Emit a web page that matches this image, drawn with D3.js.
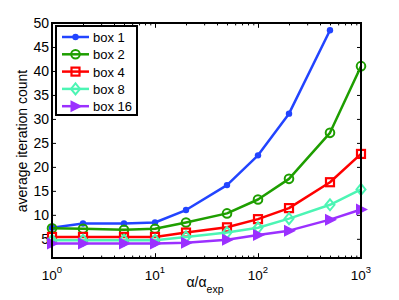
<!DOCTYPE html>
<html>
<head>
<meta charset="utf-8">
<script src="https://cdn.jsdelivr.net/npm/d3@7.9.0/dist/d3.min.js"></script>
<style>
  body { margin: 0; background: #fff; }
  svg { font-family: "Liberation Sans", Arial, sans-serif; }
</style>
</head>
<body>
<svg id="chart" width="399" height="300"></svg>
<script>
// data
const xs      = [1, 2, 5, 10, 20, 50, 100, 200, 500, 1000];
const box1    = [7.3, 8.2, 8.2, 8.4, 11, 16.2, 22.4, 31.1, 48.5, null];
const box2    = [7.2, 7.1, 6.9, 7.1, 8.4, 10.3, 13.2, 17.5, 27.1, 41];
const box4    = [5.4, 5.4, 5.4, 5.4, 6.3, 7.4, 9.1, 11.4, 16.8, 22.7];
const box8    = [4.7, 4.7, 4.7, 4.7, 5.4, 6.3, 7.3, 9.2, 12.1, 15.3];
const box16   = [4.0, 4.0, 4.0, 4.0, 4.2, 4.8, 5.8, 6.7, 9.0, 11.1];
const names   = ['box 1', 'box 2', 'box 4', 'box 8', 'box 16'];
const colors  = ['#2244ff', '#1e9e00', '#ff0000', '#4cf5b4', '#9b30ff'];
const markers = ['dot', 'circle', 'square', 'diamond', 'triangle'];
const yTicks  = [5, 10, 15, 20, 25, 30, 35, 40, 45, 50];
const xTicks  = [1, 10, 100, 1000];

const series = [box1, box2, box4, box8, box16];

const svg = d3.select('#chart');
const m = { left: 52, right: 361, top: 23, bottom: 258 };

const x = d3.scaleLog().domain([1, 1000]).range([m.left, m.right]);
const y = d3.scaleLinear().domain([1, 50]).range([m.bottom, m.top]);

// marker drawing
function drawMarker(g, type, cx, cy, color) {
  if (type === 'dot') {
    g.append('circle').attr('cx', cx).attr('cy', cy).attr('r', 3.2).attr('fill', color);
  } else if (type === 'circle') {
    g.append('circle').attr('cx', cx).attr('cy', cy).attr('r', 4.3)
      .attr('fill', 'none').attr('stroke', color).attr('stroke-width', 2);
  } else if (type === 'square') {
    g.append('rect').attr('x', cx - 4).attr('y', cy - 4).attr('width', 8).attr('height', 8)
      .attr('fill', 'none').attr('stroke', color).attr('stroke-width', 2.2);
  } else if (type === 'diamond') {
    g.append('path')
      .attr('d', `M${cx},${cy - 5.5}L${cx + 4.5},${cy}L${cx},${cy + 5.5}L${cx - 4.5},${cy}Z`)
      .attr('fill', 'none').attr('stroke', color).attr('stroke-width', 2);
  } else {
    g.append('path')
      .attr('d', `M${cx - 5},${cy - 6}L${cx + 7},${cy}L${cx - 5},${cy + 6}Z`)
      .attr('fill', color);
  }
}

// axes (MATLAB style box, ticks inward)
const tickLen = 4;
const axes = svg.append('g');
axes.append('g')
  .attr('transform', `translate(0,${m.bottom})`)
  .call(d3.axisBottom(x).tickValues(x.ticks()).tickSizeInner(-tickLen * 0.6).tickSizeOuter(0).tickFormat(''));
axes.append('g')
  .attr('transform', `translate(0,${m.top})`)
  .call(d3.axisTop(x).tickValues(x.ticks()).tickSizeInner(-tickLen * 0.6).tickSizeOuter(0).tickFormat(''));
axes.append('g')
  .attr('transform', `translate(0,${m.bottom})`)
  .call(d3.axisBottom(x).tickValues(xTicks).tickSizeInner(-tickLen * 1.2).tickSizeOuter(0).tickFormat(''));
axes.append('g')
  .attr('transform', `translate(0,${m.top})`)
  .call(d3.axisTop(x).tickValues(xTicks).tickSizeInner(-tickLen * 1.2).tickSizeOuter(0).tickFormat(''));
axes.append('g')
  .attr('transform', `translate(${m.left},0)`)
  .call(d3.axisLeft(y).tickValues(yTicks).tickSizeInner(-tickLen).tickSizeOuter(0).tickPadding(3))
  .call(g => g.selectAll('text').attr('font-size', 14).attr('fill', '#000'));
axes.append('g')
  .attr('transform', `translate(${m.right},0)`)
  .call(d3.axisRight(y).tickValues(yTicks).tickSizeInner(-tickLen).tickSizeOuter(0).tickFormat(''));
axes.selectAll('.domain').remove();
axes.selectAll('line').attr('stroke', '#000').attr('stroke-width', 1);

// x tick labels with superscript exponents
xTicks.forEach(v => {
  const t = svg.append('text')
    .attr('x', x(v)).attr('y', m.bottom + 22)
    .attr('text-anchor', 'middle').attr('font-size', 13.5);
  t.append('tspan').text('10');
  t.append('tspan').attr('dy', -7).attr('font-size', 9.5).text(Math.round(Math.log10(v)));
});

// series lines and markers
const line = d3.line()
  .defined(d => d[1] != null)
  .x(d => x(d[0]))
  .y(d => y(d[1]));

const plot = svg.append('g');
series.forEach((vals, i) => {
  const pts = xs.map((v, j) => [v, vals[j]]);
  plot.append('path')
    .datum(pts)
    .attr('d', line)
    .attr('fill', 'none')
    .attr('stroke', colors[i])
    .attr('stroke-width', 2.5)
    .attr('stroke-linejoin', 'round');
  const mg = plot.append('g');
  pts.filter(d => d[1] != null).forEach(d => drawMarker(mg, markers[i], x(d[0]), y(d[1]), colors[i]));
});

// frame
svg.append('rect')
  .attr('x', m.left).attr('y', m.top)
  .attr('width', m.right - m.left).attr('height', m.bottom - m.top)
  .attr('fill', 'none').attr('stroke', '#000').attr('stroke-width', 2);

// legend
const lg = svg.append('g');
lg.append('rect')
  .attr('x', 56).attr('y', 26).attr('width', 81).attr('height', 89)
  .attr('fill', '#fff').attr('stroke', '#000').attr('stroke-width', 2);
names.forEach((name, i) => {
  const ly = 37 + i * 17.3;
  lg.append('line')
    .attr('x1', 62).attr('x2', 89).attr('y1', ly).attr('y2', ly)
    .attr('stroke', colors[i]).attr('stroke-width', 2.5);
  drawMarker(lg, markers[i], 75.5, ly, colors[i]);
  lg.append('text')
    .attr('x', 93).attr('y', ly + 5)
    .attr('font-size', 13).text(name);
});

// axis labels
svg.append('text')
  .attr('transform', `translate(27,${(m.top + m.bottom) / 2 + 0.5}) rotate(-90)`)
  .attr('text-anchor', 'middle').attr('font-size', 14)
  .text('average iteration count');

const xl = svg.append('text')
  .attr('x', 205).attr('y', 287)
  .attr('text-anchor', 'middle').attr('font-size', 14);
xl.append('tspan').text('α/α');
xl.append('tspan').attr('dy', 6).attr('font-size', 10.5).text('exp');
</script>
</body>
</html>
